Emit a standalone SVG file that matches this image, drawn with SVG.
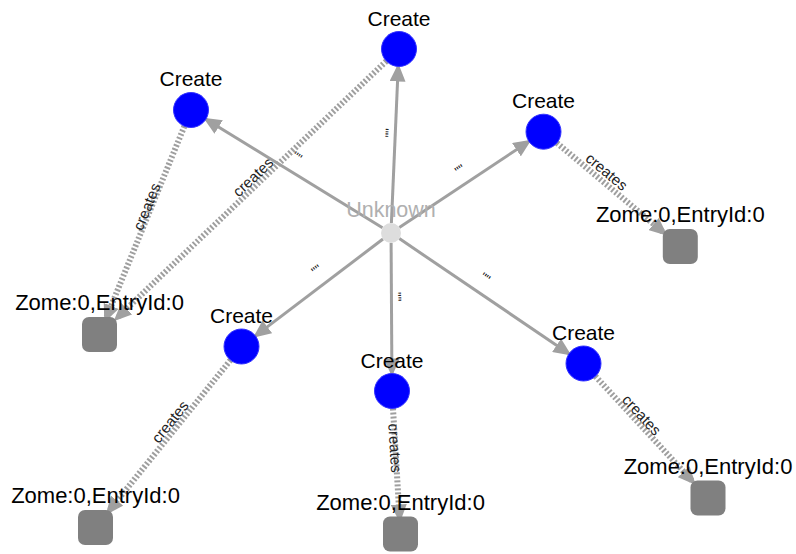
<svg xmlns="http://www.w3.org/2000/svg" width="796" height="554" viewBox="0 0 796 554">
<defs>
<style>
.lbl{font-family:"Liberation Sans",Arial,sans-serif;font-size:21px;fill:#000;text-anchor:middle}
.zlbl{font-family:"Liberation Sans",Arial,sans-serif;font-size:22px;fill:#000;text-anchor:middle}
.unk{font-family:"Liberation Sans",Arial,sans-serif;font-size:21.5px;fill:#b0b0b0;text-anchor:middle}
.elbl{font-family:"Liberation Sans",Arial,sans-serif;font-size:15px;fill:#222;text-anchor:middle}
.qlbl{font-family:"Liberation Sans",Arial,sans-serif;font-size:13px;fill:#222;text-anchor:middle}
.solid{stroke:#a0a0a0;stroke-width:3;fill:none;marker-end:url(#arr)}
.dash{stroke:#9f9f9f;stroke-width:6;stroke-dasharray:2 2;fill:none;marker-end:url(#arr2)}
.create{fill:#0000ff;stroke:#3333ff;stroke-width:1}
.entry{fill:#808080}
</style>
<marker id="arr" viewBox="0 0 18 16" refX="15" refY="8" markerWidth="18" markerHeight="16" markerUnits="userSpaceOnUse" orient="auto">
<path d="M0,0 L18,8 L0,16 z" fill="#a0a0a0"/>
</marker>
<marker id="arr2" viewBox="0 0 18 16" refX="12" refY="8" markerWidth="18" markerHeight="16" markerUnits="userSpaceOnUse" orient="auto">
<path d="M0,0 L18,8 L0,16 z" fill="#a0a0a0"/>
</marker>
</defs>
<rect width="796" height="554" fill="#ffffff"/>
<g id="connectors">
<line class="solid" x1="391.4" y1="223" x2="398.2" y2="66.5"/>
<line class="solid" x1="382.5" y1="227.8" x2="205.9" y2="119.2"/>
<line class="solid" x1="399.3" y1="227.5" x2="528.9" y2="141.4"/>
<line class="solid" x1="383" y1="239" x2="255.4" y2="335.9"/>
<line class="solid" x1="391.1" y1="243" x2="391.9" y2="373.5"/>
<line class="solid" x1="399.3" y1="238.6" x2="569" y2="353.7"/>
<line class="dash" x1="386.3" y1="61.1" x2="118" y2="317"/>
<line class="dash" x1="184.4" y1="126.2" x2="106.6" y2="317"/>
<line class="dash" x1="556.9" y1="143" x2="662.8" y2="231.8"/>
<line class="dash" x1="230.5" y1="360.1" x2="109.6" y2="510"/>
<line class="dash" x1="393" y1="408.5" x2="399.5" y2="516.5"/>
<line class="dash" x1="595.4" y1="376.3" x2="691.8" y2="480.5"/>
<text class="qlbl" transform="translate(390,133) rotate(-87.5)" dy="0.35em">""</text>
<text class="qlbl" transform="translate(297,157) rotate(31.6)" dy="0.35em">""</text>
<text class="qlbl" transform="translate(460,170) rotate(-33.6)" dy="0.35em">""</text>
<text class="qlbl" transform="translate(316.7,270) rotate(-37.2)" dy="0.35em">""</text>
<text class="qlbl" transform="translate(396.7,296.7) rotate(89.6)" dy="0.35em">""</text>
<text class="qlbl" transform="translate(485,278) rotate(34.1)" dy="0.35em">""</text>
<text class="elbl" transform="translate(253,177) rotate(-43.6)" dy="0.35em">creates</text>
<text class="elbl" transform="translate(146.7,206.7) rotate(-67.8)" dy="0.35em">creates</text>
<text class="elbl" transform="translate(606.7,171.7) rotate(40)" dy="0.35em">creates</text>
<text class="elbl" transform="translate(170,421.7) rotate(-51.1)" dy="0.35em">creates</text>
<text class="elbl" transform="translate(395,448) rotate(86.6)" dy="0.35em">creates</text>
<text class="elbl" transform="translate(641.7,415) rotate(47.2)" dy="0.35em">creates</text>
</g>
<g id="unknown">
<text class="unk" x="391" y="217">Unknown</text>
<circle cx="391" cy="233" r="10" fill="#dddddd"/>
</g>
<g id="create-top">
<circle class="create" cx="399" cy="49" r="17.5"/>
<text class="lbl" x="399" y="26">Create</text>
</g>
<g id="create-topleft">
<circle class="create" cx="191" cy="110" r="17.5"/>
<text class="lbl" x="191" y="86">Create</text>
</g>
<g id="create-right">
<circle class="create" cx="543.5" cy="131.7" r="17.5"/>
<text class="lbl" x="543.5" y="108">Create</text>
</g>
<g id="create-bottomleft">
<circle class="create" cx="241.5" cy="346.5" r="17.5"/>
<text class="lbl" x="241.5" y="323">Create</text>
</g>
<g id="create-bottommid">
<circle class="create" cx="392" cy="391" r="17.5"/>
<text class="lbl" x="392" y="367.5">Create</text>
</g>
<g id="create-bottomright">
<circle class="create" cx="583.5" cy="363.5" r="17.5"/>
<text class="lbl" x="583.5" y="340">Create</text>
</g>
<g id="entry-leftupper">
<rect class="entry" x="82" y="317" width="35" height="35" rx="7"/>
<text class="zlbl" x="99.5" y="310">Zome:0,EntryId:0</text>
</g>
<g id="entry-right">
<rect class="entry" x="662.8" y="229" width="35" height="35" rx="7"/>
<text class="zlbl" x="680.3" y="222">Zome:0,EntryId:0</text>
</g>
<g id="entry-bottomleft">
<rect class="entry" x="78" y="510" width="35" height="35" rx="7"/>
<text class="zlbl" x="95.5" y="503">Zome:0,EntryId:0</text>
</g>
<g id="entry-bottommid">
<rect class="entry" x="383" y="516.5" width="35" height="35" rx="7"/>
<text class="zlbl" x="400.5" y="509.5">Zome:0,EntryId:0</text>
</g>
<g id="entry-bottomright">
<rect class="entry" x="690.5" y="480.5" width="35" height="35" rx="7"/>
<text class="zlbl" x="708" y="473.5">Zome:0,EntryId:0</text>
</g>
</svg>
